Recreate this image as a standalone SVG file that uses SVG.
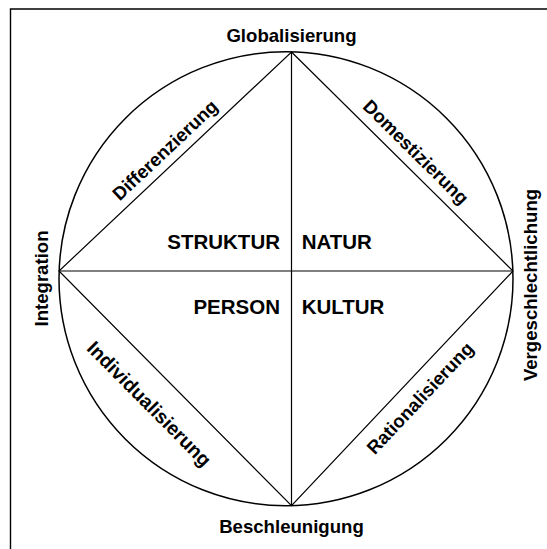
<svg xmlns="http://www.w3.org/2000/svg" width="547" height="549" viewBox="0 0 547 549">
<style>
.t{font-family:"Liberation Sans",Arial,sans-serif;font-weight:bold;font-size:18.6px;fill:#000}
.c{font-size:20.5px}
.ln{stroke:#000;stroke-width:1.2;fill:none}
</style>
<rect width="547" height="549" fill="#fff"/>
<path d="M10.5 549 V9 H547" fill="none" stroke="#000" stroke-width="1.4"/>
<g id="circle"><ellipse cx="286" cy="278.7" rx="227" ry="227" fill="none" stroke="#000" stroke-width="1.5"/></g>
<g id="connectors" class="ln">
<polygon points="291.5,52 513,271 291.5,505.7 59,271"/>
<line x1="291.5" y1="52" x2="291.5" y2="505.7"/>
<line x1="59" y1="271" x2="513" y2="271"/>
</g>
<g id="globalisierung"><text class="t" x="291.5" y="42" text-anchor="middle">Globalisierung</text></g>
<g id="beschleunigung"><text class="t" x="291.5" y="533" text-anchor="middle">Beschleunigung</text></g>
<g id="integration"><text class="t" transform="translate(48.4,278.5) rotate(-90)" text-anchor="middle">Integration</text></g>
<g id="vergeschlechtlichung"><text class="t" transform="translate(536.7,285) rotate(-90)" text-anchor="middle">Vergeschlechtlichung</text></g>
<g id="differenzierung"><text class="t" transform="translate(165,150) rotate(-43.3)" y="6.5" text-anchor="middle">Differenzierung</text></g>
<g id="domestizierung"><text class="t" transform="translate(416,152) rotate(44.7)" y="6.5" text-anchor="middle">Domestizierung</text></g>
<g id="individualisierung"><text class="t" transform="translate(149,404) rotate(45.3)" y="6.5" text-anchor="middle" style="font-size:19.5px">Individualisierung</text></g>
<g id="rationalisierung"><text class="t" transform="translate(420,398) rotate(-46.7)" y="6.5" text-anchor="middle">Rationalisierung</text></g>
<g id="struktur"><text class="t c" x="280" y="249.3" text-anchor="end">STRUKTUR</text></g>
<g id="natur"><text class="t c" x="301.7" y="249.3">NATUR</text></g>
<g id="person"><text class="t c" x="280" y="314" text-anchor="end">PERSON</text></g>
<g id="kultur"><text class="t c" x="301.7" y="314">KULTUR</text></g>
</svg>
